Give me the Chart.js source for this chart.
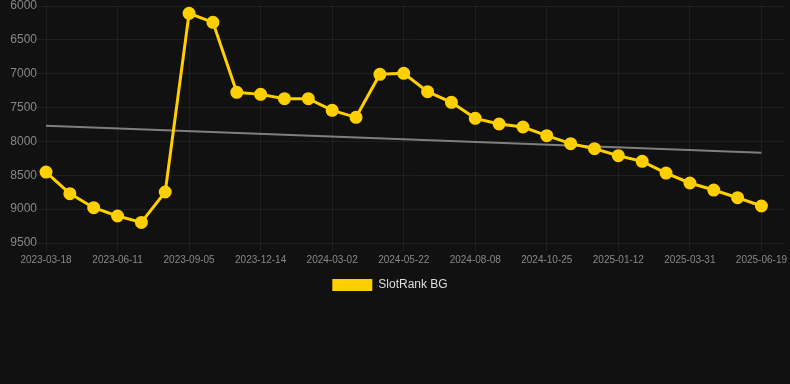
<!DOCTYPE html>
<html>
<head>
<meta charset="utf-8">
<script src="https://cdn.jsdelivr.net/npm/chart.js@4/dist/chart.umd.min.js"></script>
<style>
  html, body { margin:0; padding:0; background:#111111; }
  body { width:790px; height:384px; overflow:hidden; }
  #wrap { position:relative; width:790px; height:301px; }
</style>
</head>
<body>
<div id="wrap"><canvas id="rankChart"></canvas></div>
<script>
// ===== 数据 =====
const dates = [
  "2023-03-18","2023-04-15","2023-05-14","2023-06-11","2023-07-10","2023-08-08",
  "2023-09-05","2023-10-08","2023-11-10","2023-12-14","2024-01-09","2024-02-05",
  "2024-03-02","2024-03-29","2024-04-25","2024-05-22","2024-06-17","2024-07-13",
  "2024-08-08","2024-09-03","2024-09-29","2024-10-25","2024-11-20","2024-12-17",
  "2025-01-12","2025-02-07","2025-03-05","2025-03-31","2025-04-26","2025-05-23",
  "2025-06-19","2025-07-15"
];
const rankBG = [
  8452, 8771, 8979, 9101, 9196, 8747, 6108, 6241, 7275, 7305, 7369, 7369,
  7541, 7644, 7009, 6994, 7265, 7423, 7659, 7743, 7787, 7915, 8033, 8107,
  8211, 8294, 8467, 8614, 8718, 8831, 8954
];
const trendStart = 7768, trendEnd = 8167;
const yMin = 6000, yMax = 9500, yStep = 500;

const YELLOW = "#FFD000";
const GRID = "rgba(255,255,255,0.06)";
const FONT = "Arial, 'Liberation Sans', Helvetica, sans-serif";

// 图例整体左移几像素，对齐原图
const legendShift = {
  id: "legendShift",
  beforeDraw(chart) {
    const lg = chart.legend;
    if (lg && !lg._shifted) { lg.left -= 5; lg.right -= 5; lg._shifted = true; }
  }
};

// ===== 图表 =====
new Chart(document.getElementById("rankChart"), {
  type: "line",
  plugins: [legendShift],
  data: {
    labels: dates,
    datasets: [
      {
        label: "SlotRank BG",
        data: rankBG,
        borderColor: YELLOW,
        backgroundColor: YELLOW,
        pointBackgroundColor: YELLOW,
        pointBorderColor: YELLOW,
        pointRadius: 5,
        borderWidth: 3,
        tension: 0
      },
      {
        label: "trend",
        data: [
          {x: dates[0], y: trendStart},
          {x: dates[rankBG.length-1], y: trendEnd}
        ],
        borderColor: "rgba(140,140,140,0.9)",
        borderWidth: 2,
        pointRadius: 0,
        tension: 0
      }
    ]
  },
  options: {
    responsive: true, maintainAspectRatio: false, animation: false,
    layout: { padding: 0, autoPadding: false },
    scales: {
      x: {
        grid: { color: GRID, tickLength: 8 },
        border: { display: false },
        ticks: { color: "#888", maxRotation: 0, font: { family: FONT, size: 10 } }
      },
      y: {
        reverse: true, min: yMin, max: yMax,
        grid: { color: GRID, tickLength: 9 },
        border: { display: false },
        ticks: {
          stepSize: yStep, color: "#888", padding: 0,
          font: { family: FONT, size: 12, lineHeight: 1 },
          callback: (v) => String(v)
        },
        afterFit: (s) => { s.width = 46; }
      }
    },
    plugins: {
      legend: {
        position: "bottom",
        labels: {
          color: "#ddd",
          font: { family: FONT, size: 12 },
          boxWidth: 40, boxHeight: 12,
          filter: (item) => item.datasetIndex === 0,
          generateLabels: (chart) => Chart.defaults.plugins.legend.labels.generateLabels(chart)
            .map(it => Object.assign(it, { lineWidth: 0 }))
        }
      },
      tooltip: { enabled: false }
    }
  }
});
</script>
</body>
</html>
